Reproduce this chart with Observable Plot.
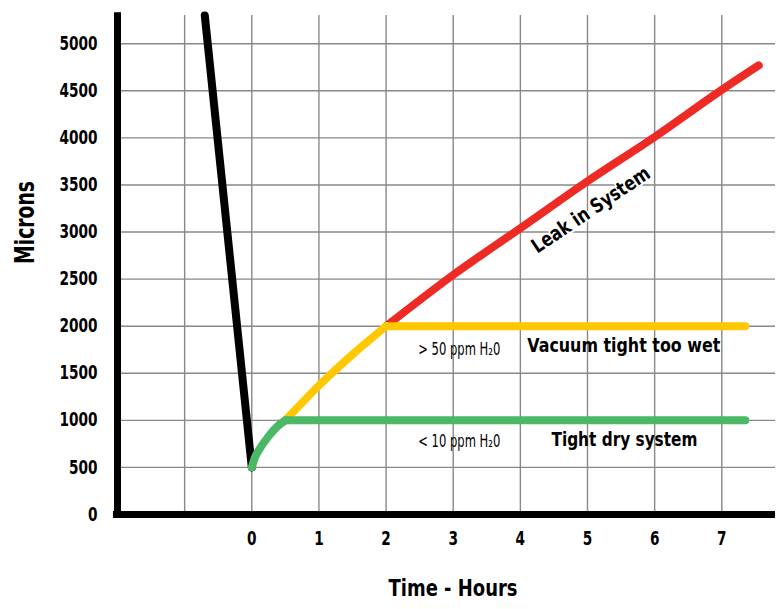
<!DOCTYPE html>
<html>
<head>
<meta charset="utf-8">
<script src="https://cdn.jsdelivr.net/npm/d3@7"></script>
<script src="https://cdn.jsdelivr.net/npm/@observablehq/plot@0.6"></script>
<style>
  html, body { margin: 0; padding: 0; background: #fff; }
  #chart svg { display: block; }
</style>
</head>
<body>
<div id="chart"></div>
<script>
// ---- data (hours, microns) ----
const descentT = [-0.7, 0];
const descentM = [5300, 500];

const dryCurveT = [0, 0.05, 0.12, 0.25, 0.38, 0.5];
const dryCurveM = [500, 610, 700, 830, 935, 1000];
const dryFlatT = [0.5, 7.35];
const dryFlatM = [1000, 1000];

const wetCurveT = [0.5, 1, 1.5, 2];
const wetCurveM = [1000, 1370, 1700, 2000];
const wetFlatT = [2, 7.35];
const wetFlatM = [2000, 2000];

const leakT = [2, 3, 4, 5, 6, 7, 7.55];
const leakM = [2000, 2545, 3040, 3540, 4010, 4510, 4770];

const xTickValues = [0, 1, 2, 3, 4, 5, 6, 7];
const xGridValues = [-1, 0, 1, 2, 3, 4, 5, 6, 7];
const yTickValues = [0, 500, 1000, 1500, 2000, 2500, 3000, 3500, 4000, 4500, 5000];
const yGridValues = [500, 1000, 1500, 2000, 2500, 3000, 3500, 4000, 4500, 5000];

const boldLabels = [
  {t: 5.54, m: 1795, text: "Vacuum tight too wet"},
  {t: 5.55, m: 800, text: "Tight dry system"}
];
const ppmLabels = [
  {t: 3.09, m: 1752, text: "> 50 ppm H\u20820"},
  {t: 3.09, m: 770, text: "< 10 ppm H\u20820"}
];
const leakLabel = [{t: 5.05, m: 3235, text: "Leak in System"}];

const zip = (T, M) => T.map((t, i) => ({t, m: M[i]}));

// ---- styling ----
const RED = "#ee2a24", YELLOW = "#ffc800", GREEN = "#4bb865";
const FONT = "'DejaVu Sans', sans-serif";
const lineOpts = {x: "t", y: "m", strokeWidth: 8, strokeLinecap: "round", strokeLinejoin: "round"};
// rendered widths (px) to emulate a condensed typeface
const textWidths = {
  "Vacuum tight too wet": 193,
  "Tight dry system": 146,
  "Leak in System": 138,
  "Time - Hours": 129,
  "Microns": 83,
  "> 50 ppm H\u20820": 82,
  "< 10 ppm H\u20820": 82
};
const tickCondense = 0.72;

const chart = Plot.plot({
  width: 778,
  height: 609,
  marginLeft: 117,
  marginRight: 3,
  marginTop: 15,
  marginBottom: 95,
  style: {fontFamily: FONT, background: "#fff", color: "#000"},
  x: {domain: [-2, 7.8]},
  y: {domain: [0, 5300]},
  marks: [
    Plot.ruleX(xGridValues, {stroke: "#888", strokeWidth: 1.4, strokeOpacity: 1}),
    Plot.ruleY(yGridValues, {stroke: "#888", strokeWidth: 1.4, strokeOpacity: 1}),
    Plot.axisX({ticks: xTickValues, tickFormat: d => String(d), tickSize: 0, tickPadding: 17, fontSize: 19, fontWeight: "bold", label: null}),
    Plot.axisY({ticks: yTickValues, tickFormat: d => String(d), tickSize: 0, tickPadding: 20, fontSize: 19, fontWeight: "bold", label: null}),
    Plot.line(zip(leakT, leakM), {...lineOpts, stroke: RED, curve: "monotone-x"}),
    Plot.line(zip(wetFlatT, wetFlatM), {...lineOpts, stroke: YELLOW}),
    Plot.line(zip(wetCurveT, wetCurveM), {...lineOpts, stroke: YELLOW, curve: "monotone-x"}),
    Plot.line(zip(descentT, descentM), {...lineOpts, stroke: "#000"}),
    Plot.line(zip(dryFlatT, dryFlatM), {...lineOpts, stroke: GREEN}),
    Plot.line(zip(dryCurveT, dryCurveM), {...lineOpts, stroke: GREEN, curve: "monotone-x"}),
    Plot.ruleX([-2], {y1: 0, y2: 5330, stroke: "#000", strokeWidth: 7}),
    Plot.ruleY([0], {x1: -2.06, x2: 7.8, stroke: "#000", strokeWidth: 7}),
    Plot.text(boldLabels, {x: "t", y: "m", text: "text", fontSize: 20, fontWeight: "bold", fill: "#000"}),
    Plot.text(ppmLabels, {x: "t", y: "m", text: "text", fontSize: 17, fontWeight: "normal", fill: "#000"}),
    Plot.text(leakLabel, {x: "t", y: "m", text: "text", rotate: -34, fontSize: 20, fontWeight: "bold", fill: "#000", stroke: "#fff", strokeWidth: 4}),
    Plot.text(["Microns"], {frameAnchor: "left", dx: -92, dy: -1, rotate: -90, fontSize: 27, fontWeight: "bold"}),
    Plot.text(["Time - Hours"], {frameAnchor: "bottom", dx: 6.5, dy: 81, fontSize: 23, fontWeight: "bold"})
  ]
});
document.getElementById("chart").append(chart);

// emulate the condensed typeface of the original
chart.querySelectorAll("text").forEach(el => {
  const s = el.textContent;
  const w = el.getComputedTextLength();
  if (!w) return;
  const target = textWidths[s] != null ? textWidths[s] : w * tickCondense;
  el.setAttribute("textLength", target);
  el.setAttribute("lengthAdjust", "spacingAndGlyphs");
});
</script>
</body>
</html>
